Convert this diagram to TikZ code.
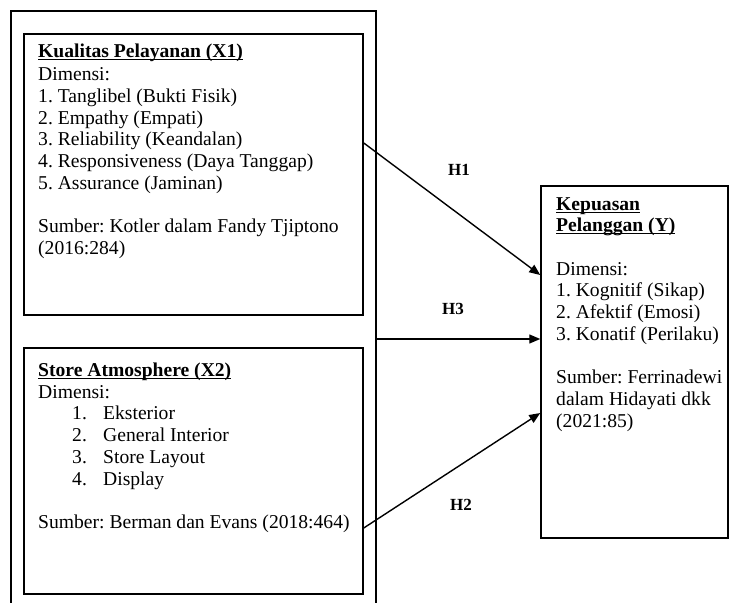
\documentclass[tikz,border=0pt]{standalone}
\usepackage{fontspec}
\setmainfont{Liberation Serif}
\usetikzlibrary{arrows.meta,calc}
\newcommand\myul[1]{\setbox0\hbox{#1}\rlap{\rule[-2.6pt]{\wd0}{1.1pt}}\box0}
\frenchspacing
\begin{document}
\begin{tikzpicture}[x=1pt,y=-1pt,
  box/.style={draw,line width=1.5pt,inner sep=0pt},
  txt/.style={anchor=base west,inner sep=0pt,font=\fontsize{19.6}{21.7}\selectfont},
  hyp/.style={inner sep=0pt,font=\bfseries\fontsize{17}{20}\selectfont},
  arr/.style={-{Triangle[length=11pt,width=9pt]},line width=1.4pt}]
\useasboundingbox (0,0) rectangle (729,603);
% boxes
\node[box,minimum width=365pt,minimum height=656pt] (outer) at (193.5,339) {};
\node[box,minimum width=339pt,minimum height=281pt] (x1) at (193.5,174.5) {};
\node[box,minimum width=339pt,minimum height=246pt] (x2) at (193.5,471) {};
\node[box,minimum width=187pt,minimum height=352pt] (y) at (634.5,362) {};
% texts
\node[txt] (t1) at (38,57.3) {\begin{tabular}[t]{@{}l@{}}
\textbf{\myul{Kualitas Pelayanan (X1)}}\\[1.8pt]
Dimensi:\\
1. Tanglibel (Bukti Fisik)\\
2. Empathy (Empati)\\
3. Reliability (Keandalan)\\
4. Responsiveness (Daya Tanggap)\\
5. Assurance (Jaminan)\\
\\
Sumber: Kotler dalam Fandy Tjiptono\\
(2016:284)
\end{tabular}};
\node[txt] (t2) at (38,376.5) {\begin{tabular}[t]{@{}l@{}}
\textbf{\myul{Store Atmosphere (X2)}}\\
Dimensi:\\
\makebox[65pt][l]{\hspace{34pt}1.}Eksterior\\
\makebox[65pt][l]{\hspace{34pt}2.}General Interior\\
\makebox[65pt][l]{\hspace{34pt}3.}Store Layout\\
\makebox[65pt][l]{\hspace{34pt}4.}Display\\
\\
Sumber: Berman dan Evans (2018:464)
\end{tabular}};
\node[txt] (t3) at (556,210) {\begin{tabular}[t]{@{}l@{}}
\textbf{\myul{Kepuasan}}\\
\textbf{\myul{Pelanggan (Y)}}\\
\\
Dimensi:\\
1. Kognitif (Sikap)\\
2. Afektif (Emosi)\\
3. Konatif (Perilaku)\\
\\
Sumber: Ferrinadewi\\
dalam Hidayati dkk\\
(2021:85)
\end{tabular}};
% connectors
\draw[arr] ([yshift=31.5pt]x1.east) -- ([yshift=87pt]y.west);
\draw[arr] (outer.east) -- (outer.east -| y.west);
\draw[arr] ([yshift=-57pt]x2.east) -- ([yshift=-51pt]y.west);
% labels
\node[hyp] (h1) at (459,170) {H1};
\node[hyp] (h3) at (453,309) {H3};
\node[hyp] (h2) at (461,505) {H2};
\end{tikzpicture}
\end{document}
